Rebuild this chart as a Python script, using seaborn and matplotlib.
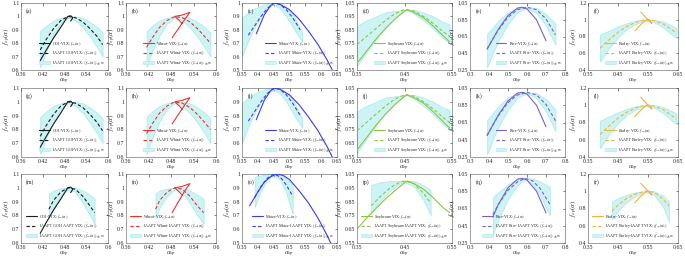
import numpy as np
import matplotlib
matplotlib.use("Agg")
import matplotlib.pyplot as plt
import seaborn as sns
from matplotlib.patches import Patch
from matplotlib.lines import Line2D

sns.set_theme(style="white")
plt.rcParams['font.family'] = ['Liberation Serif', 'DejaVu Serif']
plt.rcParams['mathtext.fontset'] = 'stix'

# ---------------- data ----------------
# (a) GOI
A_XS = [0.413, 0.43, 0.45, 0.47, 0.489, 0.497, 0.503, 0.497]
A_YS = [0.67, 0.75, 0.84, 0.92, 1.0, 1.005, 0.99, 0.965]
A_XD = [0.413, 0.43, 0.45, 0.47, 0.49, 0.51, 0.53, 0.55, 0.57, 0.585]
A_YD = [0.75, 0.83, 0.91, 0.97, 1.0, 0.99, 0.96, 0.91, 0.85, 0.79]
A_LO = [0.62, 0.74, 0.86, 0.95, 0.99, 0.97, 0.92, 0.85, 0.77, 0.70]
A_HI = [0.89, 0.93, 0.97, 0.99, 1.0, 1.0, 0.99, 0.96, 0.92, 0.88]
# (b) Wheat
B_XS = [0.483, 0.50, 0.515, 0.53, 0.51, 0.49, 0.50, 0.51]
B_YS = [0.84, 0.91, 0.97, 1.03, 1.01, 1.0, 0.975, 0.947]
B_XD = [0.415, 0.43, 0.45, 0.47, 0.49, 0.51, 0.53, 0.55, 0.57, 0.585]
B_YD = [0.77, 0.84, 0.92, 0.97, 1.0, 0.99, 0.96, 0.91, 0.85, 0.80]
B_LO = [0.62, 0.74, 0.86, 0.95, 0.99, 0.97, 0.92, 0.85, 0.77, 0.70]
B_HI = [0.89, 0.93, 0.97, 0.99, 1.0, 1.0, 0.99, 0.96, 0.92, 0.88]
# (c) Maize
C_XS = [0.395, 0.42, 0.44, 0.455, 0.47, 0.50, 0.53, 0.56, 0.59, 0.62, 0.635]
C_YS = [0.77, 0.91, 0.98, 1.0, 0.99, 0.95, 0.88, 0.79, 0.69, 0.57, 0.50]
C_XD = [0.37, 0.39, 0.41, 0.43, 0.45, 0.47, 0.49, 0.51, 0.534]
C_YD = [0.76, 0.83, 0.90, 0.96, 1.0, 0.99, 0.95, 0.89, 0.80]
C_XB = [0.35, 0.37, 0.39, 0.41, 0.43, 0.45, 0.47, 0.49, 0.51, 0.54]
C_LO = [0.60, 0.72, 0.82, 0.90, 0.96, 0.99, 0.96, 0.90, 0.82, 0.71]
C_HI = [0.89, 0.93, 0.96, 0.98, 0.995, 1.0, 1.0, 0.97, 0.92, 0.78]
# (d) Soybeans
D_XS = [0.35, 0.37, 0.39, 0.41, 0.43, 0.45, 0.455, 0.47, 0.49, 0.51, 0.53, 0.545]
D_YS = [0.60, 0.69, 0.78, 0.86, 0.93, 0.99, 1.0, 0.98, 0.94, 0.88, 0.81, 0.76]
D_YD = [0.74, 0.80, 0.86, 0.92, 0.97, 1.0, 1.0, 0.99, 0.95, 0.90, 0.84, 0.80]
D_LO = [0.58, 0.68, 0.78, 0.87, 0.94, 0.99, 1.0, 0.97, 0.92, 0.86, 0.79, 0.75]
D_HI = [0.88, 0.92, 0.95, 0.98, 0.99, 1.0, 1.0, 1.0, 0.98, 0.95, 0.91, 0.89]
# (e) Rice
E_XS = [0.39, 0.42, 0.45, 0.50, 0.55, 0.575, 0.60, 0.65, 0.70]
E_YS = [0.50, 0.62, 0.74, 0.90, 0.99, 1.0, 0.98, 0.85, 0.60]
E_XD = [0.39, 0.42, 0.45, 0.50, 0.55, 0.60, 0.65, 0.70, 0.75]
E_YD = [0.50, 0.62, 0.73, 0.88, 0.97, 1.0, 0.97, 0.86, 0.67]
E_LO = [0.28, 0.45, 0.60, 0.80, 0.94, 0.99, 0.93, 0.78, 0.55]
E_HI = [0.68, 0.76, 0.84, 0.94, 0.99, 1.0, 0.99, 0.92, 0.80]
# (f) Barley
F_XS = [0.506, 0.525, 0.545, 0.555, 0.563, 0.545, 0.526]
F_YS = [0.867, 0.94, 1.0, 1.0, 0.955, 1.02, 1.093]
F_XD = [0.39, 0.42, 0.45, 0.48, 0.51, 0.54, 0.57, 0.60, 0.63, 0.645]
F_YD = [0.66, 0.76, 0.85, 0.92, 0.97, 1.0, 0.99, 0.95, 0.88, 0.84]
F_LO = [0.50, 0.66, 0.79, 0.89, 0.95, 0.99, 0.97, 0.91, 0.82, 0.78]
F_HI = [0.82, 0.87, 0.92, 0.96, 0.99, 1.0, 1.0, 0.98, 0.93, 0.90]
# (m) GOI - IAAPT
M_XD = [0.437, 0.45, 0.47, 0.49, 0.51, 0.53, 0.55, 0.563]
M_YD = [0.845, 0.91, 0.97, 1.0, 0.99, 0.94, 0.87, 0.82]
M_LO = [0.78, 0.86, 0.94, 0.99, 0.97, 0.89, 0.80, 0.74]
M_HI = [0.96, 0.98, 0.995, 1.0, 1.0, 0.98, 0.95, 0.92]
# (n) Wheat - IAAPT
N_XS = [0.483, 0.50, 0.515, 0.53, 0.51, 0.49, 0.50, 0.51]
N_YS = [0.82, 0.90, 0.97, 1.03, 1.01, 1.0, 0.975, 0.947]
N_XD = [0.439, 0.45, 0.47, 0.49, 0.51, 0.53, 0.55, 0.567]
N_YD = [0.845, 0.91, 0.97, 1.0, 0.99, 0.94, 0.87, 0.82]
# (o) Maize - IAAPT
O_XS = [0.374, 0.40, 0.42, 0.44, 0.46, 0.48, 0.50, 0.53, 0.56, 0.59, 0.62, 0.63]
O_YS = [0.77, 0.87, 0.94, 0.98, 1.0, 0.99, 0.96, 0.88, 0.79, 0.68, 0.55, 0.50]
O_XD = [0.39, 0.41, 0.43, 0.45, 0.47, 0.49, 0.51]
O_YD = [0.83, 0.91, 0.97, 1.0, 0.98, 0.92, 0.84]
O_LO = [0.76, 0.88, 0.96, 0.99, 0.96, 0.86, 0.71]
O_HI = [0.98, 0.99, 1.0, 1.0, 1.0, 0.97, 0.92]
# (p) Soybeans - IAAPT
P_XS = [0.35, 0.37, 0.39, 0.41, 0.43, 0.455, 0.47, 0.49, 0.51, 0.53, 0.545]
P_YS = [0.65, 0.73, 0.80, 0.87, 0.93, 1.0, 0.98, 0.94, 0.88, 0.81, 0.77]
P_XD = [0.38, 0.40, 0.42, 0.44, 0.45, 0.47, 0.49, 0.505]
P_YD = [0.82, 0.89, 0.95, 0.99, 1.0, 0.98, 0.91, 0.84]
P_LO = [0.77, 0.86, 0.93, 0.98, 0.99, 0.96, 0.86, 0.75]
P_HI = [0.97, 0.99, 1.0, 1.0, 1.0, 1.0, 0.97, 0.93]
# (q) Rice - IAAPT
Q_XS = [0.42, 0.45, 0.50, 0.55, 0.575, 0.60, 0.65, 0.70]
Q_YS = [0.55, 0.70, 0.89, 0.99, 1.0, 0.98, 0.85, 0.60]
Q_XD = [0.42, 0.45, 0.50, 0.55, 0.59, 0.63, 0.67, 0.72]
Q_YD = [0.58, 0.70, 0.86, 0.96, 1.0, 0.97, 0.88, 0.70]
Q_LO = [0.35, 0.52, 0.76, 0.92, 0.99, 0.93, 0.80, 0.57]
Q_HI = [0.78, 0.84, 0.93, 0.99, 1.0, 1.0, 0.96, 0.90]
# (r) Barley - IAAPT
R_XD = [0.43, 0.45, 0.48, 0.51, 0.54, 0.57, 0.60, 0.62]
R_YD = [0.77, 0.84, 0.92, 0.97, 1.0, 0.99, 0.91, 0.83]
R_LO = [0.68, 0.77, 0.88, 0.95, 0.99, 0.96, 0.82, 0.65]
R_HI = [0.88, 0.92, 0.96, 0.99, 1.0, 1.0, 0.95, 0.88]

NAMES = ["GOI", "Wheat", "Maize", "Soybeans", "Rice", "Barley"]
LABELS_ROW1 = ["(a)", "(b)", "(c)", "(d)", "(e)", "(f)"]
LABELS_ROW2 = ["(g)", "(h)", "(i)", "(j)", "(k)", "(l)"]
LABELS_ROW3 = ["(m)", "(n)", "(o)", "(p)", "(q)", "(r)"]

# ---------------- style / layout ----------------
COLORS = ["#1a1a1a", "#f03030", "#3a3aee", "#8cc63f", "#7a5fd0", "#f0b43c"]
BAND = "#ccf4f4"
BAND_EDGE = "#a8e8ec"

XLIMS = [(0.36, 0.6), (0.36, 0.6), (0.35, 0.65), (0.35, 0.55), (0.3, 0.8), (0.35, 0.65)]
YLIMS = [(0.6, 1.1), (0.6, 1.1), (0.5, 1.0), (0.55, 1.05), (0.25, 1.05), (0.4, 1.2)]
XTICKS = [[0.36, 0.42, 0.48, 0.54, 0.6], [0.36, 0.42, 0.48, 0.54, 0.6],
          [0.35, 0.4, 0.45, 0.5, 0.55, 0.6, 0.65], [0.35, 0.45, 0.55],
          [0.3, 0.4, 0.5, 0.6, 0.7, 0.8], [0.35, 0.45, 0.55, 0.65]]
YTICKS = [[0.6, 0.7, 0.8, 0.9, 1.0, 1.1], [0.6, 0.7, 0.8, 0.9, 1.0, 1.1],
          [0.5, 0.6, 0.7, 0.8, 0.9, 1.0], [0.55, 0.65, 0.75, 0.85, 0.95, 1.05],
          [0.25, 0.45, 0.65, 0.85, 1.05], [0.4, 0.6, 0.8, 1.0, 1.2]]

W, H = 685, 259
COL_L = [21, 126, 242, 357, 470, 588]
COL_R = [108, 216, 337, 452, 565, 678]
ROW_T = [3, 88, 174]
ROW_B = [70, 157, 243]

fig = plt.figure(figsize=(W / 100, H / 100), dpi=100)

def fmt(v):
    return ('%g' % round(v, 3))

def panel(r, c, label, xs, ys, xd, yd, xb, lo, hi, leg1, leg2):
    ax = fig.add_axes([COL_L[c] / W, 1 - ROW_B[r] / H,
                       (COL_R[c] - COL_L[c]) / W, (ROW_B[r] - ROW_T[r]) / H])
    col = COLORS[c]
    ax.fill_between(xb, lo, hi, color=BAND, edgecolor=BAND_EDGE, lw=0.5, zorder=1)
    sns.lineplot(x=xs, y=ys, ax=ax, color=col, lw=0.8, sort=False, estimator=None, zorder=3)
    sns.lineplot(x=xd, y=yd, ax=ax, color=col, lw=0.8, ls=(0, (3, 2)), sort=False,
                 estimator=None, zorder=4)
    ax.set_xlim(*XLIMS[c]); ax.set_ylim(*YLIMS[c])
    ax.set_xticks(XTICKS[c]); ax.set_yticks(YTICKS[c])
    ax.set_xticklabels([fmt(v) for v in XTICKS[c]])
    ax.set_yticklabels([fmt(v) for v in YTICKS[c]])
    ax.tick_params(direction='in', length=1.8, width=0.4, labelsize=4.2, pad=1.2,
                   colors='#222222', top=True, right=True)
    for s in ax.spines.values():
        s.set_linewidth(0.4); s.set_color('#555555')
    ax.set_xlabel(r'$\alpha_{op}$', fontsize=4.8, labelpad=0)
    ax.set_ylabel(r'$f_{op}(\alpha)$', fontsize=4.8, labelpad=0)
    ax.text(0.06, 0.92, label, transform=ax.transAxes, fontsize=4.2, va='top')
    handles = [Line2D([], [], color=col, lw=0.8),
               Line2D([], [], color=col, lw=0.8, ls=(0, (3, 2))),
               Patch(facecolor=BAND, edgecolor=BAND_EDGE, lw=0.4)]
    texts = [NAMES[c] + r'-VIX: $f_{op}(\alpha)$',
             leg1 + r': $\langle\hat{f}_{op}(\alpha)\rangle$',
             leg2 + r': $\langle\hat{f}_{op}(\alpha)\rangle\pm\sigma_f$']
    ax.legend(handles, texts, loc='lower right', fontsize=3.0, frameon=False,
              handlelength=2.6, handletextpad=0.5, borderaxespad=0.3, labelspacing=0.25)
    return ax

# row 1 and row 2 (same representative curves)
row12 = [
    (A_XS, A_YS, A_XD, A_YD, A_XD, A_LO, A_HI),
    (B_XS, B_YS, B_XD, B_YD, B_XD, B_LO, B_HI),
    (C_XS, C_YS, C_XD, C_YD, C_XB, C_LO, C_HI),
    (D_XS, D_YS, D_XS, D_YD, D_XS, D_LO, D_HI),
    (E_XS, E_YS, E_XD, E_YD, E_XD, E_LO, E_HI),
    (F_XS, F_YS, F_XD, F_YD, F_XD, F_LO, F_HI),
]
for c in range(6):
    n = NAMES[c]
    panel(0, c, LABELS_ROW1[c], *row12[c], 'IAAPT ' + n + '-VIX', 'IAAPT ' + n + '-VIX')
    panel(1, c, LABELS_ROW2[c], *row12[c], 'IAAPT ' + n + '-VIX', 'IAAPT ' + n + '-VIX')

row3 = [
    (A_XS, A_YS, M_XD, M_YD, M_XD, M_LO, M_HI),
    (N_XS, N_YS, N_XD, N_YD, N_XD, M_LO, M_HI),
    (O_XS, O_YS, O_XD, O_YD, O_XD, O_LO, O_HI),
    (P_XS, P_YS, P_XD, P_YD, P_XD, P_LO, P_HI),
    (Q_XS, Q_YS, Q_XD, Q_YD, Q_XD, Q_LO, Q_HI),
    (F_XS, F_YS, R_XD, R_YD, R_XD, R_LO, R_HI),
]
for c in range(6):
    n = NAMES[c]
    panel(2, c, LABELS_ROW3[c], *row3[c], 'IAAPT ' + n + '-IAAPT VIX', 'IAAPT ' + n + '-IAAPT VIX')

fig.savefig('out.png', dpi=100)
